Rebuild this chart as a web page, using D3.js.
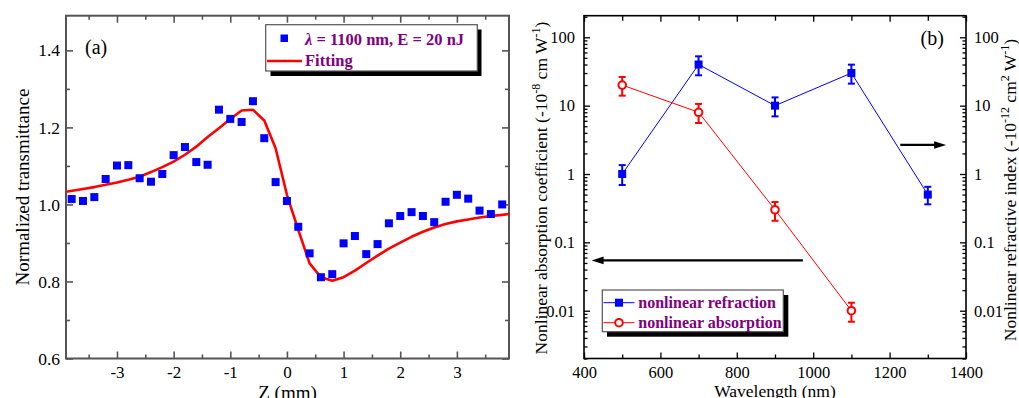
<!DOCTYPE html>
<html><head><meta charset="utf-8">
<script src="https://cdn.jsdelivr.net/npm/d3@7"></script>
<style>body{margin:0;background:#fff;} svg{display:block;} svg text{font-family:"Liberation Serif","Times New Roman",Times,serif;}</style>
</head><body>
<svg id="c" width="1019" height="398" font-family="Liberation Serif, serif"></svg>
<script>
// ---------- Panel (a) data ----------
const zData = [-3.8,-3.6,-3.4,-3.2,-3.0,-2.8,-2.6,-2.4,-2.2,-2.0,-1.8,-1.6,-1.4,-1.2,-1.0,-0.8,-0.6,-0.4,-0.2,0.0,0.2,0.4,0.6,0.8,1.0,1.2,1.4,1.6,1.8,2.0,2.2,2.4,2.6,2.8,3.0,3.2,3.4,3.6,3.8];
const tData = [1.014,1.009,1.019,1.066,1.101,1.102,1.068,1.059,1.079,1.128,1.149,1.110,1.103,1.246,1.222,1.214,1.268,1.172,1.058,1.009,0.942,0.873,0.811,0.819,0.899,0.918,0.871,0.897,0.951,0.970,0.980,0.970,0.954,1.007,1.025,1.015,0.984,0.975,1.000];
const zFit = [-3.9,-3.6,-3.4,-3.2,-3.0,-2.8,-2.6,-2.4,-2.2,-2.0,-1.8,-1.6,-1.4,-1.2,-1.0,-0.8,-0.6,-0.4,-0.2,0.0,0.2,0.4,0.6,0.8,1.0,1.2,1.4,1.6,1.8,2.0,2.2,2.4,2.6,2.8,3.0,3.2,3.4,3.6,3.8,3.92];
const tFit = [1.033,1.040,1.045,1.051,1.057,1.064,1.072,1.084,1.097,1.111,1.129,1.150,1.175,1.198,1.222,1.244,1.246,1.218,1.146,1.025,0.934,0.847,0.811,0.802,0.811,0.828,0.848,0.867,0.885,0.901,0.916,0.929,0.940,0.949,0.956,0.961,0.966,0.970,0.973,0.975];
const aXTicks = [-3,-2,-1,0,1,2,3];
const aXMinor = [-3.5,-2.5,-1.5,-0.5,0.5,1.5,2.5,3.5];
const aYTicks = [0.6,0.8,1.0,1.2,1.4];
const aYMinor = [0.7,0.9,1.1,1.3];
const aLegend = [" = 1100 nm, E = 20 nJ","Fitting"];

// ---------- Panel (b) data ----------
const wl = [500,700,900,1100,1300];
const refr = [1,40,10,30,0.5];
const refrLo = [0.69,27.8,6.97,21,0.36];
const refrHi = [1.35,52.7,13.2,39.8,0.65];
const wlAbs = [500,700,900,1100];
const absn = [20,8,0.3,0.01];
const absLo = [14,5.58,0.207,0.0069];
const absHi = [26.3,10.6,0.39,0.0131];
const bXTicks = [400,600,800,1000,1200,1400];
const bXMinor = [500,700,900,1100,1300];
const bYTicks = [0.01,0.1,1,10,100];
const bLegend = ["nonlinear refraction","nonlinear absorption"];

const FONT = '"Liberation Serif", "Times New Roman", serif';
const svg = d3.select("#c");

// ================= Panel (a) =================
const xa = d3.scaleLinear().domain([-3.9,3.92]).range([66,509]);
const ya = d3.scaleLinear().domain([0.6,1.49]).range([358.5,15.7]);
const ga = svg.append("g");
const fa = "#555";

function styleAxis(g, col, fs){
  g.attr("font-family", null).attr("font-size", null);
  g.select(".domain").remove();
  g.selectAll("line").attr("stroke", col).attr("stroke-width", 1.6);
  g.selectAll("text").attr("fill","#000").style("font-size", fs+"px").style("font-family", FONT);
}
const fmtA = d => d3.format(".1f")(d);
ga.append("g").attr("transform",`translate(0,${ya.range()[0]})`)
  .call(d3.axisBottom(xa).tickValues(aXTicks).tickSize(-7).tickPadding(7).tickFormat(d=>String(d)))
  .call(g=>styleAxis(g,fa,17));
ga.append("g").attr("transform",`translate(0,${ya.range()[0]})`)
  .call(d3.axisBottom(xa).tickValues(aXMinor).tickSize(-4).tickFormat(""))
  .call(g=>styleAxis(g,fa,17));
ga.append("g").attr("transform",`translate(0,${ya.range()[1]})`)
  .call(d3.axisTop(xa).tickValues(aXTicks).tickSize(-7).tickFormat(""))
  .call(g=>styleAxis(g,fa,17));
ga.append("g").attr("transform",`translate(0,${ya.range()[1]})`)
  .call(d3.axisTop(xa).tickValues(aXMinor).tickSize(-4).tickFormat(""))
  .call(g=>styleAxis(g,fa,17));
ga.append("g").attr("transform",`translate(${xa.range()[0]},0)`)
  .call(d3.axisLeft(ya).tickValues(aYTicks).tickSize(-7).tickPadding(6).tickFormat(fmtA))
  .call(g=>styleAxis(g,fa,17.5));
ga.append("g").attr("transform",`translate(${xa.range()[0]},0)`)
  .call(d3.axisLeft(ya).tickValues(aYMinor).tickSize(-4).tickFormat(""))
  .call(g=>styleAxis(g,fa,17));
ga.append("g").attr("transform",`translate(${xa.range()[1]},0)`)
  .call(d3.axisRight(ya).tickValues(aYTicks).tickSize(-7).tickFormat(""))
  .call(g=>styleAxis(g,fa,17));
ga.append("g").attr("transform",`translate(${xa.range()[1]},0)`)
  .call(d3.axisRight(ya).tickValues(aYMinor).tickSize(-4).tickFormat(""))
  .call(g=>styleAxis(g,fa,17));
ga.append("rect").attr("x",xa.range()[0]).attr("y",ya.range()[1])
  .attr("width",xa.range()[1]-xa.range()[0]).attr("height",ya.range()[0]-ya.range()[1])
  .attr("fill","none").attr("stroke",fa).attr("stroke-width",2);

svg.append("clipPath").attr("id","clipA").append("rect")
  .attr("x",xa.range()[0]).attr("y",ya.range()[1])
  .attr("width",xa.range()[1]-xa.range()[0]).attr("height",ya.range()[0]-ya.range()[1]);

const fitPts = zFit.map((z,i)=>[z,tFit[i]]);
ga.append("path").datum(fitPts).attr("clip-path","url(#clipA)")
  .attr("d", d3.line().x(d=>xa(d[0])).y(d=>ya(d[1])))
  .attr("fill","none").attr("stroke","#ff0000").attr("stroke-width",2.6).attr("stroke-linejoin","round");
ga.selectAll("rect.pt").data(zData.map((z,i)=>[z,tData[i]])).join("rect").attr("class","pt")
  .attr("x",d=>xa(d[0])-4).attr("y",d=>ya(d[1])-4).attr("width",8).attr("height",8)
  .attr("fill","#0000ff");

// axis titles (a)
ga.append("text").attr("x",(xa.range()[0]+xa.range()[1])/2).attr("y",398.5)
  .attr("text-anchor","middle").style("font-size","19px").text("Z (mm)");
ga.append("text").attr("transform","translate(29,187) rotate(-90)")
  .attr("text-anchor","middle").style("font-size","19px").text("Normalized transmittance");
ga.append("text").attr("x",85).attr("y",54).style("font-size","20px").text("(a)");

// legend (a)
const la = ga.append("g");
la.append("rect").attr("x",270.5).attr("y",29.5).attr("width",211).attr("height",46.5).attr("fill","#000");
la.append("rect").attr("x",265.7).attr("y",24.7).attr("width",211.6).attr("height",46.3).attr("fill","#fff").attr("stroke",fa).attr("stroke-width",1.2);
la.append("rect").attr("x",280.5).attr("y",34.5).attr("width",7.5).attr("height",7.5).attr("fill","#0000ff");
la.append("line").attr("x1",267).attr("x2",302).attr("y1",61).attr("y2",61).attr("stroke","#ff0000").attr("stroke-width",2.6);
la.append("circle").attr("cx",284.5).attr("cy",61).attr("r",1).attr("fill","#c00");
const t1 = la.append("text").attr("x",305).attr("y",44.5).attr("fill","#800080").style("font-size","16.5px").style("font-weight","bold");
t1.append("tspan").style("font-style","italic").text("λ");
t1.append("tspan").text(aLegend[0]);
la.append("text").attr("x",305).attr("y",66).attr("fill","#800080").style("font-size","16.5px").style("font-weight","bold").text(aLegend[1]);

// ================= Panel (b) =================
const xb = d3.scaleLinear().domain([400,1400]).range([584,966]);
const yb = d3.scaleLog().domain([0.002,207]).range([358.5,15.7]);
const gb = svg.append("g");
const fb = "#000";
const yMinor = yb.ticks().filter(v => Math.abs(Math.log10(v) - Math.round(Math.log10(v))) > 1e-6);

gb.append("g").attr("transform",`translate(0,${yb.range()[0]})`)
  .call(d3.axisBottom(xb).tickValues(bXTicks).tickSize(-6).tickPadding(8).tickFormat(d=>String(d)))
  .call(g=>styleAxis(g,fb,16.5));
gb.append("g").attr("transform",`translate(0,${yb.range()[0]})`)
  .call(d3.axisBottom(xb).tickValues(bXMinor).tickSize(-4).tickFormat(""))
  .call(g=>styleAxis(g,fb,16.5));
gb.append("g").attr("transform",`translate(0,${yb.range()[1]})`)
  .call(d3.axisTop(xb).tickValues(bXTicks).tickSize(-6).tickFormat(""))
  .call(g=>styleAxis(g,fb,16.5));
gb.append("g").attr("transform",`translate(0,${yb.range()[1]})`)
  .call(d3.axisTop(xb).tickValues(bXMinor).tickSize(-5).tickFormat(""))
  .call(g=>styleAxis(g,fb,16.5));
gb.append("g").attr("transform",`translate(${xb.range()[0]},0)`)
  .call(d3.axisLeft(yb).tickValues(bYTicks).tickSize(-6).tickPadding(9).tickFormat(d=>String(d)))
  .call(g=>styleAxis(g,fb,16.5));
gb.append("g").attr("transform",`translate(${xb.range()[0]},0)`)
  .call(d3.axisLeft(yb).tickValues(yMinor).tickSize(-3.5).tickFormat(""))
  .call(g=>styleAxis(g,fb,16.5));
gb.append("g").attr("transform",`translate(${xb.range()[1]},0)`)
  .call(d3.axisRight(yb).tickValues(bYTicks).tickSize(-6).tickPadding(8).tickFormat(d=>String(d)))
  .call(g=>styleAxis(g,fb,16.5));
gb.append("g").attr("transform",`translate(${xb.range()[1]},0)`)
  .call(d3.axisRight(yb).tickValues(yMinor).tickSize(-3.5).tickFormat(""))
  .call(g=>styleAxis(g,fb,16.5));
gb.selectAll("g .tick line").attr("stroke-width",1.3);
gb.append("rect").attr("x",xb.range()[0]).attr("y",yb.range()[1])
  .attr("width",xb.range()[1]-xb.range()[0]).attr("height",yb.range()[0]-yb.range()[1])
  .attr("fill","none").attr("stroke",fb).attr("stroke-width",1.6);

gb.append("path").datum(wl.map((w,i)=>[w,refr[i]]))
  .attr("d",d3.line().x(d=>xb(d[0])).y(d=>yb(d[1]))).attr("fill","none").attr("stroke","#0000ff").attr("stroke-width",1);
gb.append("path").datum(wlAbs.map((w,i)=>[w,absn[i]]))
  .attr("d",d3.line().x(d=>xb(d[0])).y(d=>yb(d[1]))).attr("fill","none").attr("stroke","#ff0000").attr("stroke-width",1);

function errBars(xs, lo, hi, col){
  const g = gb.append("g").attr("stroke",col).attr("stroke-width",2);
  xs.forEach((w,i)=>{
    g.append("line").attr("x1",xb(w)).attr("x2",xb(w)).attr("y1",yb(lo[i])).attr("y2",yb(hi[i]));
    g.append("line").attr("x1",xb(w)-3.5).attr("x2",xb(w)+3.5).attr("y1",yb(lo[i])).attr("y2",yb(lo[i]));
    g.append("line").attr("x1",xb(w)-3.5).attr("x2",xb(w)+3.5).attr("y1",yb(hi[i])).attr("y2",yb(hi[i]));
  });
}
errBars(wl, refrLo, refrHi, "#0000ff");
errBars(wlAbs, absLo, absHi, "#ff0000");
gb.selectAll("rect.sq").data(wl.map((w,i)=>[w,refr[i]])).join("rect").attr("class","sq")
  .attr("x",d=>xb(d[0])-4).attr("y",d=>yb(d[1])-4).attr("width",8).attr("height",8).attr("fill","#0000ff");
gb.selectAll("circle.ci").data(wlAbs.map((w,i)=>[w,absn[i]])).join("circle").attr("class","ci")
  .attr("cx",d=>xb(d[0])).attr("cy",d=>yb(d[1])).attr("r",3.8).attr("fill","#fff").attr("stroke","#ff0000").attr("stroke-width",2);

function arrow(x1,x2,yv){
  const X1 = xb(x1), X2 = xb(x2), Y = yb(yv), dir = Math.sign(X2-X1);
  gb.append("line").attr("x1",X1).attr("x2",X2-dir*10).attr("y1",Y).attr("y2",Y).attr("stroke","#000").attr("stroke-width",2.2);
  gb.append("path").attr("d",`M${X2},${Y} L${X2-dir*12},${Y-3.8} L${X2-dir*12},${Y+3.8} Z`).attr("fill","#000");
}
arrow(1228,1348,2.66);
arrow(973,420,0.0545);

gb.append("text").attr("x",(xb.range()[0]+xb.range()[1])/2).attr("y",397)
  .attr("text-anchor","middle").style("font-size","17.5px").text("Wavelength (nm)");
function supLabel(tr, parts){
  const t = gb.append("text").attr("transform",tr).attr("text-anchor","middle").style("font-size","17.5px");
  parts.forEach(p=>{
    const s = t.append("tspan").text(p[0]);
    if(p[1]==="sup"){ s.attr("dy",-7).style("font-size","12px"); }
    else if(p[1]==="down"){ s.attr("dy",7); }
  });
}
supLabel("translate(547,188) rotate(-90)", [["Nonlinear absorption coefficient (-10"],["-8","sup"],[" cm W","down"],["-1","sup"],[")","down"]]);
supLabel("translate(1015.5,190) rotate(-90)", [["Nonlinear refractive index (-10"],["-12","sup"],[" cm","down"],["2","sup"],[" W","down"],["-1","sup"],[")","down"]]);
gb.append("text").attr("x",920.5).attr("y",45).style("font-size","20px").text("(b)");

const lb = gb.append("g");
lb.append("rect").attr("x",607).attr("y",295).attr("width",181.3).attr("height",41.7).attr("fill","#000");
lb.append("rect").attr("x",602.3).attr("y",290).attr("width",181).attr("height",41.7).attr("fill","#fff").attr("stroke","#555").attr("stroke-width",1.2);
lb.append("line").attr("x1",603.5).attr("x2",634.5).attr("y1",302.7).attr("y2",302.7).attr("stroke","#0000ff").attr("stroke-width",1);
lb.append("rect").attr("x",615).attr("y",298.7).attr("width",8).attr("height",8).attr("fill","#0000ff");
lb.append("line").attr("x1",603.5).attr("x2",634.5).attr("y1",322.7).attr("y2",322.7).attr("stroke","#ff0000").attr("stroke-width",1);
lb.append("circle").attr("cx",619).attr("cy",322.7).attr("r",3.8).attr("fill","#fff").attr("stroke","#ff0000").attr("stroke-width",2);
bLegend.forEach((s,i)=>{
  lb.append("text").attr("x",638.3).attr("y",307.5+i*20).attr("fill","#800080")
    .style("font-size","16px").style("font-weight","bold").text(s);
});
</script>
</body></html>
